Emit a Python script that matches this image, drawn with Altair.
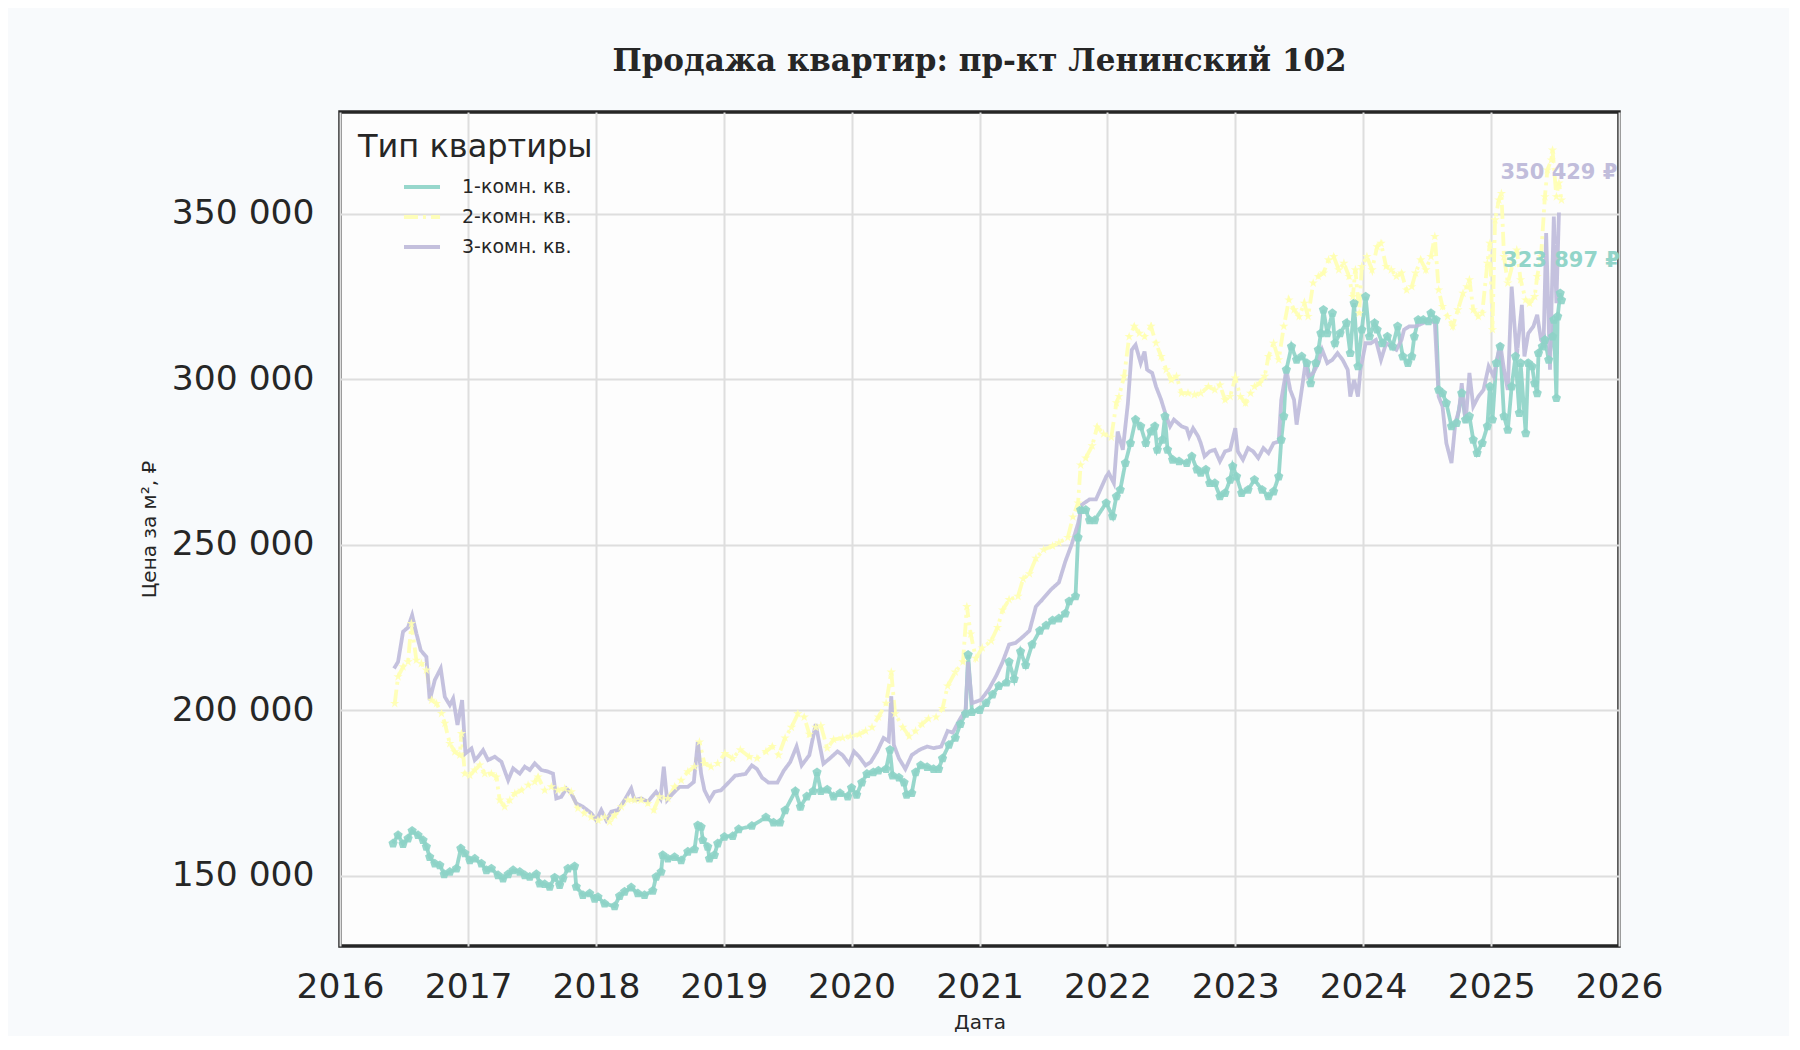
import pandas as pd
import altair as alt

# Series names and colours (Set3)
kinds = ["1-комн. кв.", "2-комн. кв.", "3-комн. кв."]
kind_colors = ["#8dd3c7", "#ffffb3", "#bebada"]

# 1-room flats: decimal years and price per m2
one_years = [
    2016.414, 2016.453, 2016.492, 2016.531, 2016.563, 2016.609, 2016.648, 2016.674, 2016.700, 2016.740,
    2016.779, 2016.813, 2016.857, 2016.909, 2016.943, 2016.974, 2017.013, 2017.052, 2017.104, 2017.143,
    2017.182, 2017.234, 2017.273, 2017.313, 2017.352, 2017.404, 2017.443, 2017.482, 2017.534, 2017.560,
    2017.599, 2017.638, 2017.677, 2017.716, 2017.742, 2017.781, 2017.833, 2017.846, 2017.898, 2017.951,
    2017.990, 2018.016, 2018.068, 2018.146, 2018.185, 2018.224, 2018.276, 2018.328, 2018.380, 2018.445,
    2018.471, 2018.510, 2018.523, 2018.563, 2018.615, 2018.667, 2018.719, 2018.771, 2018.797, 2018.823,
    2018.836, 2018.875, 2018.888, 2018.927, 2018.953, 2019.005, 2019.070, 2019.117, 2019.220, 2019.330,
    2019.390, 2019.440, 2019.480, 2019.560, 2019.600, 2019.650, 2019.700, 2019.730, 2019.760, 2019.810,
    2019.860, 2019.910, 2019.970, 2020.000, 2020.040, 2020.080, 2020.120, 2020.170, 2020.210, 2020.270,
    2020.300, 2020.320, 2020.370, 2020.410, 2020.430, 2020.470, 2020.500, 2020.540, 2020.590, 2020.640,
    2020.680, 2020.710, 2020.760, 2020.810, 2020.850, 2020.890, 2020.910, 2020.940, 2021.000, 2021.050,
    2021.100, 2021.150, 2021.210, 2021.230, 2021.270, 2021.320, 2021.360, 2021.410, 2021.470, 2021.520,
    2021.570, 2021.620, 2021.670, 2021.700, 2021.750, 2021.770, 2021.790, 2021.830, 2021.860, 2021.900,
    2021.990, 2022.040, 2022.070, 2022.100, 2022.140, 2022.180, 2022.220, 2022.260, 2022.300, 2022.340,
    2022.370, 2022.390, 2022.430, 2022.450, 2022.470, 2022.510, 2022.560, 2022.620, 2022.660, 2022.700,
    2022.730, 2022.770, 2022.800, 2022.840, 2022.880, 2022.920, 2022.960, 2022.980, 2023.010, 2023.050,
    2023.100, 2023.150, 2023.210, 2023.260, 2023.300, 2023.340, 2023.360, 2023.380, 2023.400, 2023.440,
    2023.480, 2023.520, 2023.560, 2023.590, 2023.630, 2023.650, 2023.670, 2023.690, 2023.720, 2023.760,
    2023.780, 2023.820, 2023.870, 2023.900, 2023.930, 2023.960, 2023.990, 2024.020, 2024.050, 2024.090,
    2024.110, 2024.150, 2024.190, 2024.230, 2024.270, 2024.310, 2024.350, 2024.380, 2024.400, 2024.430,
    2024.470, 2024.510, 2024.530, 2024.570, 2024.590, 2024.620, 2024.650, 2024.690, 2024.730, 2024.770,
    2024.800, 2024.830, 2024.860, 2024.890, 2024.930, 2024.970, 2024.990, 2025.010, 2025.040, 2025.070,
    2025.100, 2025.130, 2025.160, 2025.190, 2025.220, 2025.230, 2025.270, 2025.290, 2025.320, 2025.340,
    2025.360, 2025.370, 2025.400, 2025.420, 2025.450, 2025.480, 2025.490, 2025.510, 2025.520, 2025.540, 2025.550,
]
one_prices = [
    159700, 162200, 159500, 161200, 163500, 162200, 160700, 158700, 155600, 153600,
    153100, 150400, 151100, 152100, 158200, 156700, 154600, 155100, 153600, 151600,
    152100, 150100, 149100, 150400, 151600, 151100, 150100, 149600, 150400, 147600,
    147400, 146600, 149400, 147100, 149100, 152100, 152800, 146600, 144100, 144600,
    143000, 143500, 141500, 140700, 143800, 145100, 146400, 144600, 144100, 145400,
    149600, 151100, 156200, 155100, 155600, 154600, 157200, 157900, 165200, 164700,
    160700, 158700, 155100, 156200, 159700, 161700, 161900, 164000, 165000, 167600,
    166000, 166000, 169700, 175500, 170800, 173900, 175500, 181200, 175500, 176000,
    173900, 174900, 173900, 176500, 174400, 178100, 180700, 181200, 181700, 182200,
    188000, 180200, 179600, 178100, 174400, 174900, 181200, 183300, 182800, 182200,
    182200, 185400, 189500, 191600, 195800, 198900, 216700, 199400, 200000, 202100,
    204700, 207300, 208300, 214600, 209400, 217700, 213600, 219800, 224000, 225600,
    227100, 227700, 229200, 232900, 234400, 252200, 260500, 260500, 257400, 257400,
    262600, 258600, 264600, 266600, 274700, 280700, 287800, 285800, 280700, 284200,
    285800, 278700, 281700, 288800, 278700, 275700, 275200, 274700, 276700, 272700,
    271700, 272700, 268600, 268600, 264600, 265600, 269600, 273700, 270600, 265600,
    266600, 269600, 266600, 264600, 266100, 270600, 281700, 288800, 302900, 309900,
    305900, 306900, 304900, 298800, 304900, 308900, 313900, 321000, 313900, 320000,
    310900, 313900, 317000, 307900, 323000, 303900, 315000, 325000, 312900, 317000,
    315000, 310900, 312900, 309900, 316000, 306900, 304900, 306900, 312900, 318000,
    318000, 317500, 320000, 318000, 296800, 295800, 292800, 285800, 286800, 295800,
    287800, 288800, 281700, 277700, 280700, 285800, 297800, 287800, 304900, 309900,
    288800, 284700, 297800, 306900, 289800, 304900, 283700, 304900, 303900, 298800,
    295800, 307900, 309900, 311900, 305900, 312900, 318000, 294300, 319000, 326000, 323897,
]

# 2-room flats
two_years = [
    2016.427, 2016.453, 2016.492, 2016.531, 2016.557, 2016.596, 2016.635, 2016.674, 2016.714, 2016.753,
    2016.792, 2016.818, 2016.857, 2016.896, 2016.935, 2016.948, 2016.974, 2017.013, 2017.052, 2017.091,
    2017.130, 2017.182, 2017.221, 2017.247, 2017.286, 2017.326, 2017.365, 2017.417, 2017.469, 2017.521,
    2017.547, 2017.599, 2017.651, 2017.703, 2017.755, 2017.807, 2017.859, 2017.911, 2017.964, 2018.016,
    2018.068, 2018.107, 2018.146, 2018.198, 2018.250, 2018.302, 2018.354, 2018.406, 2018.453, 2018.497,
    2018.563, 2018.615, 2018.667, 2018.719, 2018.771, 2018.810, 2018.849, 2018.901, 2018.953, 2019.010,
    2019.070, 2019.130, 2019.200, 2019.260, 2019.330, 2019.380, 2019.430, 2019.480, 2019.530, 2019.580,
    2019.630, 2019.670, 2019.720, 2019.760, 2019.810, 2019.860, 2019.930, 2019.990, 2020.060, 2020.110,
    2020.160, 2020.210, 2020.270, 2020.310, 2020.340, 2020.400, 2020.450, 2020.500, 2020.550, 2020.600,
    2020.660, 2020.710, 2020.750, 2020.810, 2020.870, 2020.900, 2020.930, 2020.970, 2021.020, 2021.090,
    2021.140, 2021.180, 2021.230, 2021.300, 2021.340, 2021.390, 2021.440, 2021.500, 2021.570, 2021.620,
    2021.690, 2021.730, 2021.770, 2021.790, 2021.830, 2021.880, 2021.920, 2021.970, 2022.030, 2022.070,
    2022.090, 2022.130, 2022.170, 2022.210, 2022.250, 2022.290, 2022.340, 2022.380, 2022.420, 2022.460,
    2022.500, 2022.540, 2022.580, 2022.630, 2022.680, 2022.730, 2022.790, 2022.840, 2022.880, 2022.920,
    2022.960, 2023.000, 2023.040, 2023.080, 2023.120, 2023.150, 2023.190, 2023.230, 2023.260, 2023.300,
    2023.340, 2023.380, 2023.420, 2023.460, 2023.500, 2023.540, 2023.570, 2023.610, 2023.650, 2023.690,
    2023.730, 2023.770, 2023.810, 2023.850, 2023.890, 2023.920, 2023.940, 2023.970, 2023.990, 2024.030,
    2024.070, 2024.110, 2024.140, 2024.180, 2024.220, 2024.260, 2024.300, 2024.340, 2024.380, 2024.410,
    2024.450, 2024.490, 2024.530, 2024.560, 2024.590, 2024.620, 2024.660, 2024.700, 2024.740, 2024.780,
    2024.810, 2024.830, 2024.860, 2024.900, 2024.930, 2024.970, 2024.990, 2025.010, 2025.030, 2025.060,
    2025.080, 2025.100, 2025.130, 2025.170, 2025.200, 2025.230, 2025.270, 2025.300, 2025.340, 2025.360,
    2025.390, 2025.420, 2025.440, 2025.470, 2025.480, 2025.510, 2025.530, 2025.550,
]
two_prices = [
    202000, 210100, 213100, 214600, 226200, 215100, 214100, 212100, 203000, 202000,
    199000, 196000, 189900, 187400, 186400, 192900, 180800, 180300, 181900, 183400,
    180800, 180800, 179800, 172800, 170800, 172800, 174800, 175800, 177300, 178300,
    179800, 175800, 176800, 175800, 176300, 175300, 170300, 168800, 167700, 166700,
    167700, 166200, 168200, 170800, 172800, 172800, 172800, 171800, 169800, 173800,
    173300, 176800, 178800, 181400, 182900, 190400, 183900, 182900, 183900, 186900,
    185400, 188000, 185900, 185400, 187500, 189000, 186400, 191600, 194800, 198900,
    197900, 192700, 194800, 195300, 188500, 191100, 191600, 192100, 192700, 193700,
    194800, 197900, 202100, 211500, 198900, 194800, 192100, 193700, 195800, 197400,
    197900, 200500, 207300, 211500, 214600, 231300, 223000, 215700, 218800, 220900,
    225000, 230300, 233400, 234400, 239700, 241200, 245900, 248500, 249600, 250600,
    252200, 258400, 262600, 274100, 276200, 279900, 285600, 283500, 282500, 292900,
    294800, 300900, 312900, 316000, 313900, 312900, 316000, 310900, 306900, 302900,
    299800, 300900, 295800, 295800, 295300, 295800, 297800, 296800, 298300, 293800,
    294800, 300400, 294800, 292800, 295800, 297800, 298800, 300900, 306900, 310900,
    305900, 316000, 324000, 321000, 319000, 323000, 319000, 329100, 331100, 332100,
    336100, 337100, 333100, 335100, 331100, 325000, 333100, 320000, 334100, 337100,
    333100, 340100, 341100, 334100, 333100, 331100, 332100, 327000, 328000, 332100,
    336100, 333100, 337100, 343200, 327000, 322000, 319000, 316000, 321000, 326000,
    328000, 330100, 321000, 319000, 320000, 335100, 341100, 315000, 348200, 354200,
    356200, 337100, 329100, 335100, 339100, 330100, 324000, 323000, 325000, 331100,
    337100, 355200, 363300, 366300, 369300, 355200, 359300, 354200,
]

# 3-room flats
three_years = [
    2016.422, 2016.453, 2016.492, 2016.531, 2016.563, 2016.596, 2016.630, 2016.674, 2016.700, 2016.740,
    2016.786, 2016.818, 2016.857, 2016.883, 2016.917, 2016.953, 2016.979, 2017.026, 2017.052, 2017.078,
    2017.117, 2017.156, 2017.208, 2017.260, 2017.313, 2017.352, 2017.404, 2017.443, 2017.482, 2017.521,
    2017.573, 2017.625, 2017.664, 2017.690, 2017.729, 2017.768, 2017.807, 2017.846, 2017.898, 2017.964,
    2018.003, 2018.042, 2018.081, 2018.120, 2018.172, 2018.224, 2018.276, 2018.302, 2018.354, 2018.406,
    2018.471, 2018.505, 2018.531, 2018.557, 2018.602, 2018.654, 2018.719, 2018.766, 2018.797, 2018.823,
    2018.849, 2018.888, 2018.927, 2018.979, 2019.010, 2019.090, 2019.170, 2019.220, 2019.260, 2019.300,
    2019.350, 2019.420, 2019.470, 2019.520, 2019.570, 2019.610, 2019.670, 2019.720, 2019.740, 2019.780,
    2019.830, 2019.890, 2019.930, 2019.980, 2020.020, 2020.060, 2020.110, 2020.150, 2020.200, 2020.250,
    2020.290, 2020.310, 2020.330, 2020.370, 2020.420, 2020.470, 2020.530, 2020.590, 2020.640, 2020.700,
    2020.750, 2020.790, 2020.840, 2020.890, 2020.910, 2020.940, 2021.010, 2021.070, 2021.130, 2021.180,
    2021.230, 2021.280, 2021.330, 2021.390, 2021.440, 2021.490, 2021.560, 2021.620, 2021.670, 2021.720,
    2021.770, 2021.800, 2021.860, 2021.910, 2021.990, 2022.010, 2022.050, 2022.080, 2022.120, 2022.160,
    2022.190, 2022.220, 2022.260, 2022.290, 2022.310, 2022.350, 2022.380, 2022.420, 2022.460, 2022.490,
    2022.520, 2022.580, 2022.620, 2022.640, 2022.670, 2022.710, 2022.730, 2022.760, 2022.800, 2022.840,
    2022.880, 2022.920, 2022.960, 2023.000, 2023.020, 2023.060, 2023.100, 2023.140, 2023.180, 2023.220,
    2023.260, 2023.300, 2023.340, 2023.360, 2023.400, 2023.430, 2023.460, 2023.480, 2023.520, 2023.550,
    2023.570, 2023.610, 2023.650, 2023.680, 2023.720, 2023.760, 2023.800, 2023.840, 2023.880, 2023.900,
    2023.930, 2023.960, 2023.980, 2024.020, 2024.060, 2024.100, 2024.140, 2024.180, 2024.220, 2024.260,
    2024.300, 2024.320, 2024.360, 2024.410, 2024.470, 2024.520, 2024.560, 2024.590, 2024.620, 2024.650,
    2024.690, 2024.720, 2024.750, 2024.770, 2024.800, 2024.830, 2024.860, 2024.900, 2024.940, 2024.980,
    2025.020, 2025.050, 2025.070, 2025.100, 2025.130, 2025.160, 2025.200, 2025.240, 2025.260, 2025.290,
    2025.330, 2025.360, 2025.390, 2025.410, 2025.430, 2025.460, 2025.470, 2025.490, 2025.510, 2025.530,
]
three_prices = [
    212600, 214600, 223700, 225000, 228700, 223200, 218100, 216100, 203000, 209100,
    212600, 204000, 201500, 203500, 195500, 203000, 186900, 188400, 184900, 185900,
    187900, 184900, 185900, 184400, 178800, 182400, 180800, 182900, 181900, 183900,
    181900, 181400, 180800, 173300, 173800, 176300, 174800, 171800, 170800, 168800,
    166700, 169800, 166700, 169300, 169800, 172800, 176300, 172800, 173300, 172300,
    175300, 173300, 182900, 172800, 174800, 176800, 176800, 178300, 190400, 180800,
    175800, 172800, 175300, 175800, 177000, 180200, 180700, 183300, 182200, 179600,
    178100, 178100, 181700, 184300, 189000, 183300, 186400, 195800, 191600, 183800,
    185400, 187500, 186400, 183800, 187500, 185900, 183300, 184300, 187500, 191600,
    190600, 204200, 189500, 185400, 182200, 186400, 188000, 189000, 188500, 189000,
    193700, 193200, 196900, 200000, 214600, 202100, 203100, 206200, 210400, 214600,
    219800, 220300, 221900, 224000, 231300, 233400, 236500, 238600, 244900, 250100,
    256400, 262100, 263700, 263700, 270600, 271700, 268600, 284200, 278700, 292800,
    308900, 310400, 304900, 308400, 302900, 301900, 297800, 293800, 288800, 285800,
    287800, 285800, 285200, 282700, 285200, 282700, 280700, 276700, 278200, 278700,
    275200, 278200, 278700, 285200, 278200, 275700, 279200, 278200, 276200, 279200,
    277700, 280700, 281200, 293800, 302900, 296800, 293800, 286300, 296800, 304900,
    300900, 301900, 304900, 308900, 304900, 305900, 307900, 305900, 302900, 294800,
    299800, 294800, 302900, 310900, 310900, 311900, 305900, 310900, 309900, 308900,
    311900, 315000, 316000, 316000, 317000, 318000, 317000, 294800, 291800, 280700,
    274700, 286800, 290800, 298800, 286800, 301900, 291800, 294800, 296800, 303900,
    300900, 306900, 310900, 302900, 296800, 328000, 306900, 322500, 306900, 313900,
    316000, 319500, 311900, 310900, 344200, 302900, 319000, 349200, 323000, 350429,
]

y_ticks = [150000, 200000, 250000, 300000, 350000]
x_years = list(range(2016, 2027))


def to_date(y):
    year = int(y)
    start = pd.Timestamp(year=year, month=1, day=1)
    days = (pd.Timestamp(year=year + 1, month=1, day=1) - start).days
    return start + pd.Timedelta(days=(y - year) * days)


frames = []
for kind, years, prices in [
    (kinds[0], one_years, one_prices),
    (kinds[1], two_years, two_prices),
    (kinds[2], three_years, three_prices),
]:
    assert len(years) == len(prices), kind
    frames.append(pd.DataFrame({
        "kind": kind,
        "date": [to_date(y) for y in years],
        "price": prices,
    }))
df = pd.concat(frames, ignore_index=True)

# Last-value labels for 1- and 3-room flats
last = pd.DataFrame({
    "kind": [kinds[2], kinds[0]],
    "date": [to_date(three_years[-1]), to_date(one_years[-1])],
    "price": [three_prices[-1], one_prices[-1]],
})
last["label"] = last["price"].map(lambda v: f"{v:,}".replace(",", " ") + " ₽")

font = "DejaVu Sans"
ink = "#262626"

x_enc = alt.X(
    "date:T",
    title="Дата",
    scale=alt.Scale(domain=["2016-01-01", "2026-01-01"]),
    axis=alt.Axis(
        values=[f"{y}-01-01" for y in x_years],
        format="%Y",
        labelFontSize=34.5,
        labelPadding=24,
        labelFlush=False,
        labelOverlap=False,
        titleFontSize=20,
        titleY=76,
        titleBaseline="middle",
    ),
)
y_enc = alt.Y(
    "price:Q",
    title="Цена за м², ₽",
    scale=alt.Scale(domain=[128700, 380800], nice=False, zero=False),
    axis=alt.Axis(
        values=y_ticks,
        labelExpr="replace(format(datum.value, ',.0f'), ',', ' ')",
        labelFontSize=34.5,
        labelPadding=26,
        titleFontSize=20,
        titleX=-191,
        titleY=417,
        titleAngle=-90,
        titleAlign="center",
        titleBaseline="middle",
    ),
)
color_scale = alt.Scale(domain=kinds, range=kind_colors)

lines = alt.Chart(df).mark_line(strokeWidth=3.8, opacity=0.9).encode(
    x=x_enc,
    y=y_enc,
    color=alt.Color(
        "kind:N",
        scale=color_scale,
        legend=alt.Legend(
            title="Тип квартиры",
            orient="none",
            legendX=18,
            legendY=20,
            symbolType="stroke",
            symbolStrokeWidth=3.8,
            symbolSize=1300,
            symbolOffset=44,
            titleFontSize=32,
            titleFontWeight="normal",
            titleLimit=0,
            titlePadding=3,
            labelFontSize=19,
            labelOffset=20,
            rowPadding=0,
            padding=0,
        ),
    ),
    strokeDash=alt.StrokeDash(
        "kind:N",
        scale=alt.Scale(domain=kinds, range=[[1, 0], [14, 5, 3, 5], [1, 0]]),
        legend=None,
    ),
)

pentagon = "M0,-1L0.951,-0.309L0.588,0.809L-0.588,0.809L-0.951,-0.309Z"
star = ("M0,-1L0.2245,-0.309L0.951,-0.309L0.363,0.118L0.588,0.809L0,0.382"
        "L-0.588,0.809L-0.363,0.118L-0.951,-0.309L-0.2245,-0.309Z")

points = alt.Chart(df).transform_filter(
    alt.datum.kind != kinds[2]
).mark_point(filled=True, size=95, opacity=0.9).encode(
    x="date:T",
    y="price:Q",
    color=alt.Color("kind:N", scale=color_scale, legend=None),
    shape=alt.Shape("kind:N", scale=alt.Scale(domain=kinds[:2], range=[pentagon, star]), legend=None),
)

labels = alt.Chart(last).mark_text(
    font=font, fontSize=21, fontWeight="bold", align="center", baseline="middle", dy=-39, opacity=0.95
).encode(
    x="date:T",
    y="price:Q",
    text="label:N",
    color=alt.Color("kind:N", scale=color_scale, legend=None),
)

chart = alt.layer(lines, points, labels).properties(
    width=1279,
    height=834,
    background="#f8fafc",
    padding={"left": 332, "top": 104, "right": 170, "bottom": 90},
    autosize=alt.AutoSizeParams(type="none"),
    title=alt.TitleParams(
        text="Продажа квартир: пр-кт Ленинский 102",
        font="DejaVu Serif",
        fontSize=31,
        fontWeight="bold",
        color=ink,
        anchor="middle",
        offset=34,
    ),
).configure(
    font=font,
).configure_view(
    fill="#fdfdfd",
    stroke=ink,
    strokeWidth=3.5,
).configure_axis(
    grid=True,
    gridColor="#dedede",
    gridWidth=2,
    domain=False,
    ticks=False,
    labelColor=ink,
    titleColor=ink,
    labelFont=font,
    titleFont=font,
    titleFontWeight="normal",
).configure_legend(
    labelColor=ink,
    titleColor=ink,
    labelFont=font,
    titleFont=font,
)

chart.save("out.html", embed_options={"renderer": "svg", "actions": False})
